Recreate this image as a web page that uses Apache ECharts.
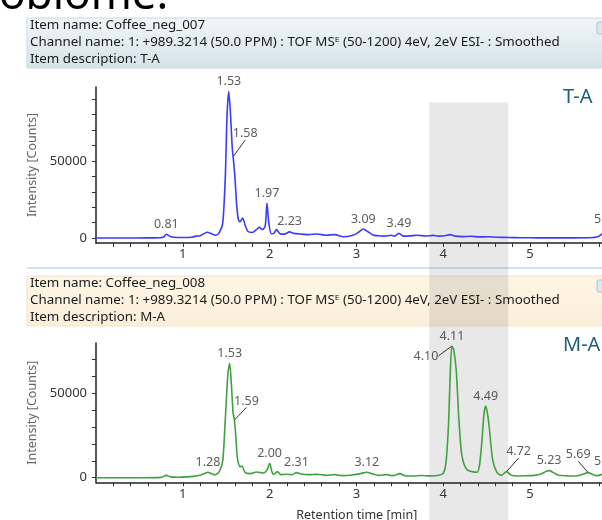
<!DOCTYPE html>
<html><head><meta charset="utf-8">
<script src="https://cdn.jsdelivr.net/npm/echarts@6/dist/echarts.min.js"></script>
<style>html,body{margin:0;padding:0;background:#fff;overflow:hidden}#c{width:602px;height:520px}</style>
</head><body><div id="c"></div>
<script>
// ---------- DATA ----------
const slideTitle = 'oblome.';
const headerTA = ['Item name: Coffee_neg_007', 'Channel name: 1: +989.3214 (50.0 PPM) : TOF MS\u1D31 (50-1200) 4eV, 2eV ESI- : Smoothed', 'Item description: T-A'];
const headerMA = ['Item name: Coffee_neg_008', 'Channel name: 1: +989.3214 (50.0 PPM) : TOF MS\u1D31 (50-1200) 4eV, 2eV ESI- : Smoothed', 'Item description: M-A'];
const sampleTA = 'T-A';
const sampleMA = 'M-A';
const xAxisName = 'Retention time [min]';
const yAxisName = 'Intensity [Counts]';

const timesTA = [0.00,0.30,0.60,0.74,0.78,0.81,0.85,0.90,1.00,1.10,1.15,1.20,1.25,1.28,1.33,1.38,1.42,1.46,1.49,1.51,1.53,1.55,1.57,1.58,1.60,1.62,1.64,1.66,1.69,1.72,1.75,1.80,1.85,1.88,1.92,1.95,1.97,1.99,2.02,2.05,2.08,2.12,2.17,2.23,2.28,2.35,2.45,2.55,2.65,2.75,2.85,2.95,3.02,3.08,3.13,3.19,3.25,3.32,3.40,3.44,3.49,3.54,3.62,3.70,3.80,3.88,3.95,4.02,4.08,4.14,4.22,4.32,4.42,4.52,4.62,4.75,4.90,5.10,5.40,5.70,5.78,5.83,5.88,5.93,6.00,6.20,6.40];
const countsTA = [0,0,100,200,600,2400,1200,500,300,500,1200,1500,3000,3700,2800,1800,3500,9500,40000,80000,95000,80000,58000,52800,40000,22000,12000,10500,13000,8000,4200,3600,5500,6900,5500,8000,22500,10000,2800,3000,5400,2800,2500,4000,3000,2600,2200,2600,1800,2200,800,1600,3500,5800,4200,2000,1500,1200,1800,1200,3000,1200,1400,1800,1300,1700,1200,1500,2200,1200,900,1100,700,800,500,300,200,100,100,200,800,2600,5500,3000,800,300,200];
const peakTimesTA = [0.81,1.53,1.58,1.97,2.23,3.08,3.49,5.88];
const peakCountsTA = [2400,95000,52800,22500,4000,5800,3000,5500];
const peakLabelsTA = ['0.81','1.53','1.58','1.97','2.23','3.09','3.49','5.88'];

const timesMA = [0.00,0.50,0.75,0.81,0.86,0.95,1.05,1.12,1.20,1.25,1.29,1.33,1.37,1.42,1.46,1.49,1.52,1.54,1.56,1.58,1.595,1.61,1.63,1.66,1.68,1.72,1.78,1.85,1.93,1.97,2.00,2.03,2.05,2.09,2.13,2.20,2.26,2.31,2.36,2.45,2.55,2.65,2.75,2.85,2.95,3.05,3.12,3.18,3.25,3.35,3.42,3.50,3.56,3.65,3.75,3.85,3.95,4.00,4.03,4.06,4.08,4.10,4.12,4.15,4.18,4.21,4.24,4.28,4.33,4.39,4.42,4.45,4.47,4.49,4.51,4.53,4.57,4.62,4.67,4.73,4.78,4.85,4.95,5.05,5.12,5.18,5.22,5.27,5.33,5.42,5.52,5.60,5.67,5.72,5.77,5.83,5.88,5.93,6.00,6.20,6.40];
const countsMA = [0,0,200,1400,500,300,500,800,1500,2500,3200,2400,1600,3600,10000,35000,62000,67800,55000,38000,34200,25000,11000,6500,6900,3000,2400,3400,2800,4500,8500,3000,2000,3600,1800,2000,1800,3000,2200,1800,2000,1400,1800,1200,1600,2400,3200,2400,1400,1800,1200,2400,1200,1000,1300,1100,1500,2600,8000,30000,60000,78000,76000,63800,35000,15000,8000,4500,3600,3200,8000,24300,38000,42500,38000,30200,10500,3000,1400,3600,1600,1000,1200,1400,2000,3600,4200,3000,1500,1100,1000,1800,3000,2000,1200,2000,4000,2500,1000,500,300];
const peakTimesMA = [1.29,1.54,1.595,2.00,2.31,3.12,4.10,4.10,4.49,4.73,5.22,5.67,5.88];
const peakCountsMA = [3200,67800,34200,8500,3000,3200,78000,78000,42500,3600,4200,3000,4000];
const peakLabelsMA = ['1.28','1.53','1.59','2.00','2.31','3.12','4.10','4.11','4.49','4.72','5.23','5.69','5.88'];

const xLabelValues = [1,2,3,4,5,6];
const xTickValues = [0.2,0.4,0.6,0.8,1,1.2,1.4,1.6,1.8,2,2.2,2.4,2.6,2.8,3,3.2,3.4,3.6,3.8,4,4.2,4.4,4.6,4.8,5,5.2,5.4,5.6,5.8,6,6.2,6.4];
const yLabelValues = [0,50000];
const yTickValuesTA = [0,10000,20000,30000,40000,50000,60000,70000,80000,90000];
const yTickValuesMA = [0,10000,20000,30000,40000,50000,60000,70000];
const bandRange = [3.84, 4.75];
const bandTopCounts = 88000;

// ---------- STYLE ----------
const FONT = '"Noto Sans", "DejaVu Sans", sans-serif';
const labelOffsets = { // [dx, dy]
  'TA1.58': [12, -13],
  'MA1.59': [12, -9],
  'MA4.10': [-26, 20],
  'MA4.72': [12, -10],
  'MA5.69': [-10, -8]
};

const chart = echarts.init(document.getElementById('c'), null, {renderer: 'canvas'});
const pxPerMin = 86.8;
const gridW = pxPerMin * 6.4;

function xAxisCfg(idx, showName) {
  return {
    type: 'value', gridIndex: idx, min: 0, max: 6.4,
    axisLine: {onZero: false, lineStyle: {color: '#222', width: 1.5}},
    axisTick: {show: true, customValues: xTickValues, length: 4, lineStyle: {color: '#333'}},
    axisLabel: {customValues: xLabelValues, color: '#333', fontSize: 13, fontFamily: FONT, margin: 5,
      formatter: v => String(v)},
    splitLine: {show: false},
    name: showName ? xAxisName : '', nameLocation: 'middle', nameGap: 27,
    nameTextStyle: {color: '#333', fontSize: 12.5, fontFamily: FONT, padding: [0, 34, 0, 0]}
  };
}
function yAxisCfg(idx, min, max, ticks) {
  return {
    type: 'value', gridIndex: idx, min: min, max: max,
    axisLine: {show: true, lineStyle: {color: '#222', width: 1.5}},
    axisTick: {show: true, customValues: ticks, length: 4, lineStyle: {color: '#333'}},
    axisLabel: {customValues: yLabelValues, color: '#333', fontSize: 13, fontFamily: FONT, margin: 9,
      formatter: v => String(v)},
    splitLine: {show: false},
    name: yAxisName, nameLocation: 'middle', nameGap: 48,
    nameTextStyle: {color: '#666', fontSize: 12.5, fontFamily: FONT}
  };
}
function peakSeries(idx, key, times, counts, labels) {
  return {
    type: 'scatter', xAxisIndex: idx, yAxisIndex: idx, symbol: 'circle', symbolSize: 1,
    itemStyle: {color: 'rgba(0,0,0,0)'}, z: 5, silent: true,
    data: times.map((t, i) => {
      const off = labelOffsets[key + labels[i]];
      return {value: [t, counts[i]], name: key + labels[i],
        labelLine: {show: !!off, lineStyle: {color: '#333', width: 1}}};
    }),
    label: {show: true, position: 'top', distance: 3, color: '#333', fontSize: 12.5, fontFamily: FONT,
      formatter: p => labels[p.dataIndex]},
    labelLayout: p => {
      const off = labelOffsets[key + labels[p.dataIndex]];
      return off ? {dx: off[0], dy: off[1]} : {};
    },
    labelLine: {show: false, length2: 0, smooth: false}
  };
}

const option = {
  animation: false,
  backgroundColor: '#fff',
  grid: [
    {left: 96, top: 87, width: gridW, height: 156, outerBoundsMode: 'none', containLabel: false},
    {left: 96, top: 343, width: gridW, height: 139.3, outerBoundsMode: 'none', containLabel: false}
  ],
  xAxis: [xAxisCfg(0, false), xAxisCfg(1, true)],
  yAxis: [yAxisCfg(0, -3250, 98000, yTickValuesTA), yAxisCfg(1, -2725, 79800, yTickValuesMA)],
  series: [
    {type: 'line', xAxisIndex: 0, yAxisIndex: 0, data: timesTA.map((t, i) => [t, countsTA[i]]),
      showSymbol: false, smooth: 0.25, lineStyle: {color: '#3b3bff', width: 1.6}, z: 3},
    {type: 'line', xAxisIndex: 1, yAxisIndex: 1, data: timesMA.map((t, i) => [t, countsMA[i]]),
      showSymbol: false, smooth: 0.25, lineStyle: {color: '#3fa23f', width: 1.6}, z: 3},
    peakSeries(0, 'TA', peakTimesTA, peakCountsTA, peakLabelsTA),
    peakSeries(1, 'MA', peakTimesMA, peakCountsMA, peakLabelsMA)
  ]
};
chart.setOption(option);

// overlays: headers, band, titles
const bx0 = chart.convertToPixel({xAxisIndex: 0}, bandRange[0]);
const bx1 = chart.convertToPixel({xAxisIndex: 0}, bandRange[1]);
const by0 = chart.convertToPixel({yAxisIndex: 0}, bandTopCounts);

function headerGroup(top, lines, fillTop, fillBottom, stroke) {
  const els = [
    {type: 'rect', shape: {x: 27, y: top, width: 600, height: 50}, z: -10,
      style: {fill: new echarts.graphic.LinearGradient(0, 0, 0, 1, [{offset: 0, color: fillTop}, {offset: 1, color: fillBottom}]), stroke: stroke, lineWidth: 1}},
    {type: 'rect', shape: {x: 597, y: top + 4, width: 11, height: 12, r: 2}, z: 10,
      style: {fill: '#dbe8ef', stroke: '#a8c4d4', lineWidth: 1}}
  ];
  lines.forEach((s, i) => els.push({type: 'text', x: 30, y: top + 7 + i * 17, z: 10,
    style: {text: s, fill: '#1a1a1a', font: '13.35px ' + FONT, textVerticalAlign: 'middle'}}));
  return els;
}

chart.setOption({
  graphic: [
    {type: 'text', x: -1, y: 18, z: 10, style: {text: slideTitle, fill: '#000', font: '44px ' + FONT, textVerticalAlign: 'bottom'}},
    ...headerGroup(18, headerTA, '#f1f6f8', '#d5e3e9', '#c9dbe3'),
    {type: 'line', shape: {x1: 27, y1: 268, x2: 602, y2: 268}, z: -10, style: {stroke: '#d2e5ef', lineWidth: 2}},
    ...headerGroup(276, headerMA, '#fdf5e6', '#fbefd9', '#f1e4cc'),
    {type: 'rect', shape: {x: bx0, y: by0, width: bx1 - bx0, height: 520 - by0}, z: -5, silent: true,
      style: {fill: 'rgba(0,0,0,0.09)'}},
    {type: 'text', x: 563, y: 97, z: 10, style: {text: sampleTA, fill: '#1e5f7f', font: '20px ' + FONT, textVerticalAlign: 'middle'}},
    {type: 'text', x: 563, y: 345, z: 10, style: {text: sampleMA, fill: '#1e5f7f', font: '20px ' + FONT, textVerticalAlign: 'middle'}}
  ]
});
</script></body></html>
